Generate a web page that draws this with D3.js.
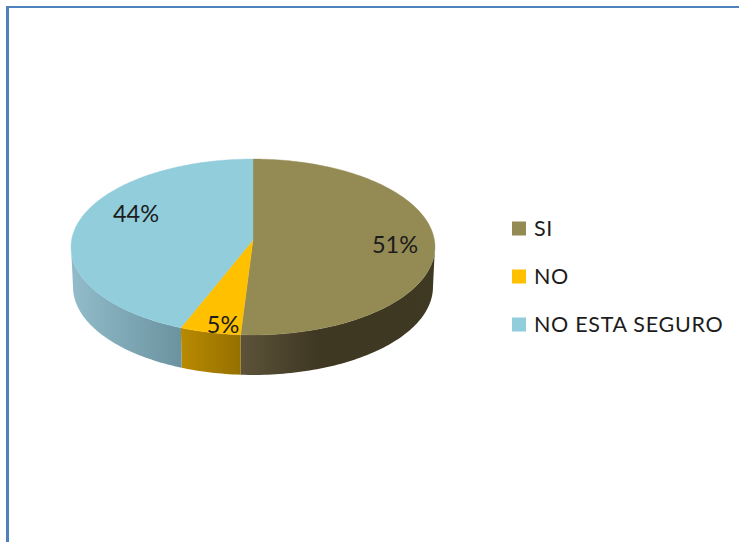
<!DOCTYPE html>
<html>
<head>
<meta charset="utf-8">
<script src="https://cdn.jsdelivr.net/npm/d3@7"></script>
<style>
  html, body { margin: 0; padding: 0; background: #fff; }
  svg { display: block; }
  text { font-family: Lato, "Open Sans", sans-serif; fill: #1c1c1c; }
</style>
</head>
<body>
<svg id="chart" width="739" height="542"></svg>
<script>
// Survey answers and their shares
const categories = ["SI", "NO", "NO ESTA SEGURO"];
const values = [51, 5, 44];
const valueLabels = ["51%", "5%", "44%"];
const topColors = ["#948a54", "#ffc000", "#92cddc"];

// Disc seen in perspective: the centre sits above the middle of the outline
const W = 739, H = 542;
const apex = { x: 253, y: 240 };
const tilt = -0.0795;       // foreshortening, nearer edge is magnified
const radiusY = 87.4;
const topRadiusX = 181.4, baseRadiusX = 179.4;
const depth = 40;
const labelAnchors = [[395, 245], [223, 325], [136, 214]];

const svg = d3.select("#chart");
const defs = svg.append("defs");

const pie = d3.pie().sort(null).value(d => d);
const arcs = pie(values);

const project = (a, radiusX, drop) => {
  const u = Math.sin(a), v = -Math.cos(a), w = 1 + tilt * v;
  return [apex.x + radiusX * u / w, apex.y + drop + radiusY * v / w];
};
const onTop = a => project(a, topRadiusX, 0);
const onBase = a => project(a, baseRadiusX, depth);
const sweep = (a0, a1) => {
  const n = Math.max(2, Math.ceil(Math.abs(a1 - a0) / 0.02));
  return d3.range(n + 1).map(i => a0 + (a1 - a0) * i / n);
};
const line = d3.line();

// Frame: only the top and left rules are visible
svg.append("rect").attr("x", 6).attr("y", 6).attr("width", W - 6).attr("height", 2).attr("fill", "#4f81bd");
svg.append("rect").attr("x", 6).attr("y", 6).attr("width", 3).attr("height", H - 6).attr("fill", "#4f81bd");

// Wall shading runs horizontally across each slice
const sideStops = [
  [[0, "#5c5339"], [0.4, "#3e3722"], [1, "#3f3823"]],
  [[0, "#b88a00"], [1, "#967000"]],
  [[0, "#93bccb"], [1, "#6a929f"]]
];
// Silhouette angles: where the outline reaches its widest point
const frontStart = Math.acos(tilt), frontEnd = 2 * Math.PI - frontStart;

arcs.forEach((d, i) => {
  const a0 = Math.max(d.startAngle, frontStart);
  const a1 = Math.min(d.endAngle, frontEnd);
  if (a1 <= a0) return;
  const topEdge = sweep(a0, a1).map(onTop);
  const baseEdge = sweep(a1, a0).map(onBase);
  const [xMin, xMax] = d3.extent(topEdge.concat(baseEdge), p => p[0]);
  const grad = defs.append("linearGradient")
    .attr("id", "side" + i)
    .attr("gradientUnits", "userSpaceOnUse")
    .attr("x1", xMin).attr("x2", xMax).attr("y1", 0).attr("y2", 0);
  sideStops[i].forEach(([o, c]) => grad.append("stop").attr("offset", o).attr("stop-color", c));
  svg.append("path")
    .attr("d", line(topEdge.concat(baseEdge)) + "Z")
    .attr("fill", `url(#side${i})`);
});

// Top face of each slice, meeting at the off-centre apex
arcs.forEach((d, i) => {
  const rim = sweep(d.startAngle, d.endAngle).map(onTop);
  svg.append("path")
    .attr("d", line([[apex.x, apex.y], ...rim]) + "Z")
    .attr("fill", topColors[i])
    .attr("stroke", topColors[i])
    .attr("stroke-width", 0.4);
});

// Value labels
svg.selectAll("text.value").data(valueLabels).join("text")
  .attr("class", "value")
  .attr("x", (d, i) => labelAnchors[i][0])
  .attr("y", (d, i) => labelAnchors[i][1])
  .attr("dy", "0.35em")
  .attr("text-anchor", "middle")
  .attr("font-size", 23.5)
  .text(d => d);

// Legend
const legendY = d3.scalePoint().domain(categories).range([228.5, 324.5]);
const legend = svg.selectAll("g.legend").data(categories).join("g")
  .attr("class", "legend")
  .attr("transform", d => `translate(512,${legendY(d)})`);
legend.append("rect")
  .attr("x", 0).attr("y", -7).attr("width", 14).attr("height", 14)
  .attr("fill", (d, i) => topColors[i]);
legend.append("text")
  .attr("x", 22).attr("y", 0).attr("dy", "0.35em")
  .attr("font-size", 21.5)
  .attr("letter-spacing", 0.7)
  .text(d => d);
</script>
</body>
</html>
